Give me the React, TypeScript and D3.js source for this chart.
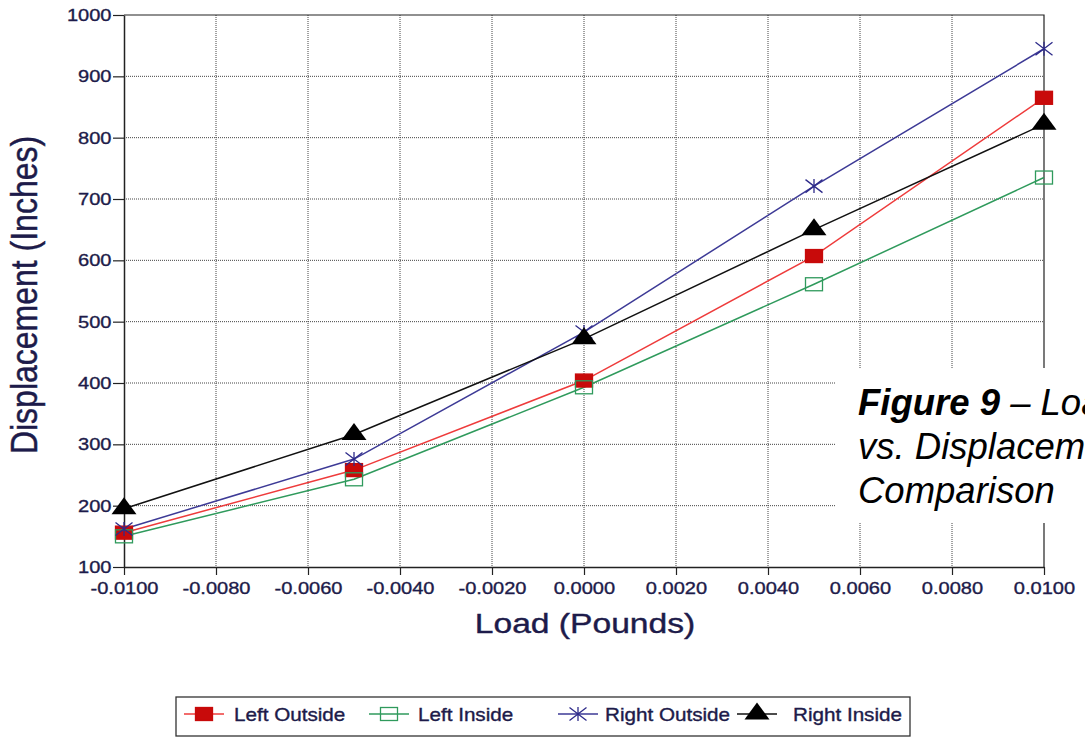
import React, { useEffect, useRef } from "react";
import * as d3 from "d3";

// Load (pounds) at each measurement
const loads = [-0.01, -0.005, 0, 0.005, 0.01];

// Displacement (inches) for each gauge
const leftOutside = [156, 258, 404, 607, 865];
const leftInside = [150, 243, 393, 561, 735];
const rightOutside = [162, 276, 483, 721, 945];
const rightInside = [195, 316, 472, 650, 822];

const xTickValues = [-0.01, -0.008, -0.006, -0.004, -0.002, 0, 0.002, 0.004, 0.006, 0.008, 0.01];
const yTickValues = [100, 200, 300, 400, 500, 600, 700, 800, 900, 1000];

const seriesNames = ["Left Outside", "Left Inside", "Right Outside", "Right Inside"];

const FONT = "'Liberation Sans', Arial, Helvetica, sans-serif";
const INK = "#1d1b4a";
const SX = 1.18; // the scan is stretched sideways

function App() {
  const chartRef = useRef<SVGSVGElement | null>(null);

  useEffect(() => {
    const svg = d3.select(chartRef.current);
    svg.selectAll("*").remove();

    const width = 1085;
    const height = 740;
    const marginLeft = 124;
    const marginRight = 41;
    const marginTop = 15;
    const marginBottom = 173;

    const x = d3
      .scaleLinear()
      .domain([-0.01, 0.01])
      .range([marginLeft, width - marginRight]);
    const y = d3
      .scaleLinear()
      .domain([100, 1000])
      .range([height - marginBottom, marginTop]);

    const series = [
      { name: seriesNames[0], values: leftOutside, line: "#ee3b3b", marker: "square", fill: "#c80a0a", stroke: "#c80a0a" },
      { name: seriesNames[1], values: leftInside, line: "#2f9a5c", marker: "square", fill: "none", stroke: "#2f9a5c" },
      { name: seriesNames[2], values: rightOutside, line: "#3d3a96", marker: "star", fill: "none", stroke: "#2e2b8a" },
      { name: seriesNames[3], values: rightInside, line: "#111111", marker: "triangle", fill: "#000000", stroke: "#000000" },
    ];

    svg.append("rect").attr("width", width).attr("height", height).attr("fill", "#ffffff");

    // dotted grid
    const grid = svg.append("g").attr("stroke", "#444").attr("stroke-width", 1).attr("stroke-dasharray", "1,1");
    grid
      .selectAll("line.v")
      .data(xTickValues.slice(1, -1))
      .join("line")
      .attr("x1", d => x(d))
      .attr("x2", d => x(d))
      .attr("y1", y(1000))
      .attr("y2", y(100));
    grid
      .selectAll("line.h")
      .data(yTickValues.slice(1, -1))
      .join("line")
      .attr("class", "h")
      .attr("x1", x(-0.01))
      .attr("x2", x(0.01))
      .attr("y1", d => y(d))
      .attr("y2", d => y(d));

    // frame top and right
    svg
      .append("path")
      .attr("d", `M${x(-0.01)},${y(1000)}H${x(0.01)}V${y(100)}`)
      .attr("fill", "none")
      .attr("stroke", "#222")
      .attr("stroke-width", 1.2);

    // white panel behind the caption
    svg.append("rect").attr("x", 835).attr("y", 368).attr("width", 260).attr("height", 155).attr("fill", "#ffffff");

    // axes
    const xAxis = svg
      .append("g")
      .attr("transform", `translate(0,${y(100)})`)
      .call(
        d3
          .axisBottom(x)
          .tickValues(xTickValues)
          .tickSizeInner(8)
          .tickSizeOuter(0)
          .tickPadding(7)
          .tickFormat(d => (+d).toFixed(4))
      );
    const yAxis = svg
      .append("g")
      .attr("transform", `translate(${x(-0.01)},0)`)
      .call(
        d3
          .axisLeft(y)
          .tickValues(yTickValues)
          .tickSizeInner(11)
          .tickSizeOuter(0)
          .tickPadding(1)
          .tickFormat(d => String(d))
      );

    [xAxis, yAxis].forEach(g => {
      g.select(".domain").attr("stroke", "#222").attr("stroke-width", 1.5);
      g.selectAll(".tick line").attr("stroke", "#222").attr("stroke-width", 1.2);
      g.selectAll("text")
        .attr("fill", INK)
        .attr("stroke", INK)
        .attr("stroke-width", 0.35)
        .style("font-family", FONT)
        .style("font-size", "17px");
    });
    xAxis.selectAll("text").attr("transform", `scale(${SX},1)`);
    yAxis.selectAll("text").attr("x", -12.5 / SX).attr("transform", `scale(${SX},1)`);

    // lines
    const line = d3
      .line<number>()
      .x((_, i) => x(loads[i]))
      .y(d => y(d));

    series.forEach(s => {
      svg
        .append("path")
        .datum(s.values)
        .attr("d", line)
        .attr("fill", "none")
        .attr("stroke", s.line)
        .attr("stroke-width", 1.5);
    });

    const drawMarker = (g, kind, fill, stroke) => {
      if (kind === "square") {
        g.append("rect")
          .attr("x", -8.5)
          .attr("y", -6.5)
          .attr("width", 17)
          .attr("height", 13)
          .attr("fill", fill === "none" ? "none" : fill)
          .attr("stroke", stroke)
          .attr("stroke-width", 1.3);
      } else if (kind === "star") {
        g.append("path")
          .attr("d", "M0,-7V7M-8.5,-6.5L8.5,6.5M-8.5,6.5L8.5,-6.5")
          .attr("fill", "none")
          .attr("stroke", stroke)
          .attr("stroke-width", 1.3);
      } else {
        g.append("path").attr("d", "M0,-11.5L12.5,5.5H-12.5Z").attr("fill", fill);
      }
    };

    // markers
    series.forEach(s => {
      s.values.forEach((v, i) => {
        const g = svg.append("g").attr("transform", `translate(${x(loads[i])},${y(v)})`);
        drawMarker(g, s.marker, s.fill, s.stroke);
      });
    });

    // axis titles
    svg
      .append("text")
      .attr("transform", `translate(585,633) scale(${SX},1)`)
      .attr("text-anchor", "middle")
      .attr("fill", INK)
      .attr("stroke", INK)
      .attr("stroke-width", 0.4)
      .style("font-family", FONT)
      .style("font-size", "28.5px")
      .text("Load (Pounds)");
    svg
      .append("text")
      .attr("transform", `translate(37,295) scale(${SX},1) rotate(-90)`)
      .attr("text-anchor", "middle")
      .attr("fill", INK)
      .attr("stroke", INK)
      .attr("stroke-width", 0.4)
      .style("font-family", FONT)
      .style("font-size", "32px")
      .text("Displacement (Inches)");

    // caption (runs off the right edge, as in the page it was cut from)
    const cap = svg
      .append("text")
      .attr("fill", "#000")
      .style("font-family", FONT)
      .style("font-size", "36.5px")
      .style("font-style", "italic");
    const l1 = cap.append("tspan").attr("x", 858).attr("y", 415);
    l1.append("tspan").style("font-weight", "bold").text("Figure 9");
    l1.append("tspan").text(" – Load");
    cap.append("tspan").attr("x", 858).attr("y", 459).text("vs. Displacement");
    cap.append("tspan").attr("x", 858).attr("y", 503).text("Comparison");

    // legend
    const legend = svg.append("g");
    legend
      .append("rect")
      .attr("x", 176)
      .attr("y", 697)
      .attr("width", 734)
      .attr("height", 39)
      .attr("fill", "#fff")
      .attr("stroke", "#333")
      .attr("stroke-width", 1.3);
    const legendSym = [204, 389, 578, 757];
    const legendText = [234, 418, 605, 793];
    series.forEach((s, i) => {
      const cx = legendSym[i];
      legend
        .append("line")
        .attr("x1", cx - 20)
        .attr("x2", cx + 20)
        .attr("y1", 714)
        .attr("y2", 714)
        .attr("stroke", s.line)
        .attr("stroke-width", 1.5);
      const g = legend.append("g").attr("transform", `translate(${cx},714)`);
      drawMarker(g, s.marker, s.fill, s.stroke);
      legend
        .append("text")
        .attr("transform", `translate(${legendText[i]},721) scale(${SX},1)`)
        .attr("fill", INK)
        .attr("stroke", INK)
        .attr("stroke-width", 0.35)
        .style("font-family", FONT)
        .style("font-size", "17.5px")
        .text(s.name);
    });
  }, []);

  return (
    <svg
      ref={chartRef}
      width={1085}
      height={740}
      viewBox="0 0 1085 740"
      style={{ position: "absolute", left: 0, top: 0, display: "block" }}
    />
  );
}

export default App;
